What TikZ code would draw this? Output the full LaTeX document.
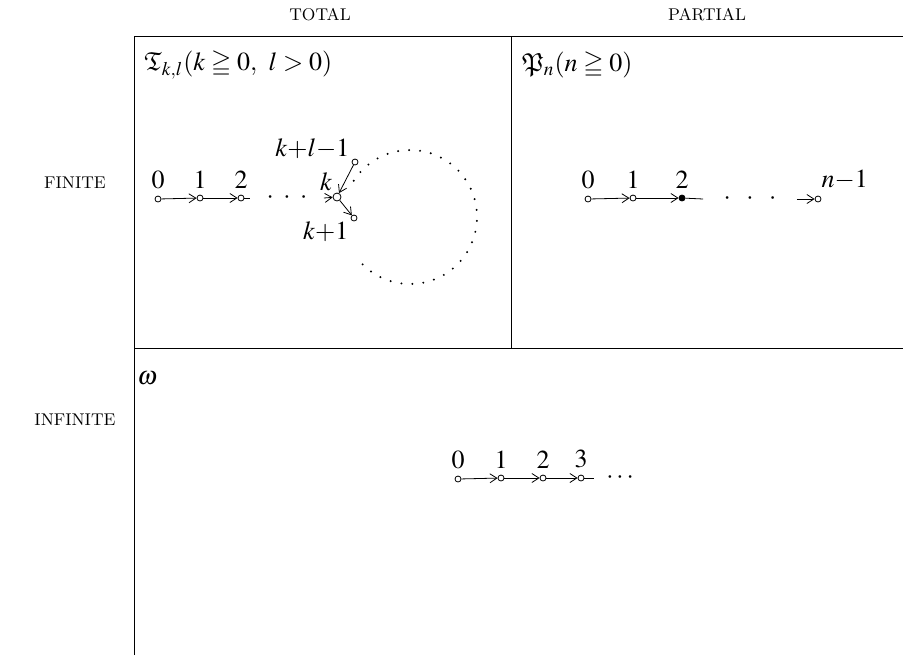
\documentclass[tikz,border=0pt]{standalone}
\usepackage{mathptmx}
\usepackage{amssymb}
\usetikzlibrary{arrows.meta}

\begin{document}
\begin{tikzpicture}[x=0.5pt, y=-0.5pt, >={Straight Barb[length=3.5pt, width=4.5pt]},
  vtx/.style={circle, draw, inner sep=0pt, minimum size=3pt, fill=white},
  lbl/.style={font=\fontsize{13}{15}\selectfont, inner sep=1pt, label distance=2pt},
  head/.style={font=\fontsize{8.5}{10}\selectfont},
  dots/.style={font=\fontsize{13}{15}\selectfont, inner ysep=0pt, inner xsep=8pt},
  edge/.style={->}]
  \useasboundingbox (0,0) rectangle (903,655);
  % Table
  \draw[line width=0.5pt] (134,655) -- (134,36) -- (903,36);
  \draw[line width=0.5pt] (511,36) -- (511,348);
  \draw[line width=0.5pt] (134,348) -- (903,348);
  % Headings
  \node[head] (total) at (320,15) {TOTAL};
  \node[head] (partial) at (707,15) {PARTIAL};
  \node[head] (finite) at (75,183) {FINITE};
  \node[head] (infinite) at (75,420) {INFINITE};
  % Cell titles
  \node[lbl, anchor=west] (ttl) at (142,65) {$\mathfrak{T}_{k,l}(k \geqq 0,\ l > 0)$};
  \node[lbl, anchor=west] (ptl) at (520,65) {$\mathfrak{P}_n(n \geqq 0)$};
  \node[lbl, anchor=west] (wtl) at (135,378) {$\omega$};
  % Total, finite: lasso
  \draw[dash pattern=on 0pt off 5.5pt, line cap=round, line width=1.1pt]
    (410,217) ++(135:67) arc[start angle=135, end angle=-150, radius=67];
  \node[vtx, label={[lbl]above:$0$}] (t0) at (158,199) {};
  \node[vtx, label={[lbl]above:$1$}] (t1) at (200,198) {};
  \node[vtx, label={[lbl]above:$2$}] (t2) at (241,198) {};
  \node[dots] (tdots) at (287,198) {$\cdot\hspace{3pt}\cdot\hspace{3pt}\cdot$};
  \node[vtx, minimum size=4pt, label={[lbl, label distance=0pt]125:$k$}] (tk) at (337,197) {};
  \node[vtx, label={[lbl, label distance=0pt]165:$k{+}l{-}1$}] (tkl) at (355,162) {};
  \node[vtx, label={[lbl, label distance=0pt]200:$k{+}1$}] (tk1) at (354,218) {};
  \draw[edge] (t0) -- (t1);
  \draw[edge] (t1) -- (t2);
  \draw (t2) -- (tdots.west);
  \draw[edge] (tdots.east) -- (tk);
  \draw[edge] (tkl) -- (tk);
  \draw[edge] (tk) -- (tk1);
  % Partial, finite: chain
  \node[vtx, label={[lbl]above:$0$}] (p0) at (588,199) {};
  \node[vtx, label={[lbl]above:$1$}] (p1) at (633,198) {};
  \node[vtx, fill=black, label={[lbl]above:$2$}] (p2) at (682,198) {};
  \node[dots, inner xsep=10pt] (pdots) at (750,199) {$\cdot\hspace{6pt}\cdot\hspace{6pt}\cdot$};
  \node[vtx, label={[lbl]80:$n{-}1$}] (pn) at (818,199) {};
  \draw[edge] (p0) -- (p1);
  \draw[edge] (p1) -- (p2);
  \draw (p2) -- (pdots.west);
  \draw[edge] (pdots.east) -- (pn);
  % Total, infinite: omega
  \node[vtx, label={[lbl]above:$0$}] (w0) at (458,479) {};
  \node[vtx, label={[lbl]above:$1$}] (w1) at (501,478) {};
  \node[vtx, label={[lbl]above:$2$}] (w2) at (543,478) {};
  \node[vtx, label={[lbl]above:$3$}] (w3) at (581,478) {};
  \node[dots, anchor=west, inner xsep=6pt] (wdots) at (594,478) {$\cdots$};
  \draw[edge] (w0) -- (w1);
  \draw[edge] (w1) -- (w2);
  \draw[edge] (w2) -- (w3);
  \draw (w3) -- (wdots.west);
\end{tikzpicture}
\end{document}
